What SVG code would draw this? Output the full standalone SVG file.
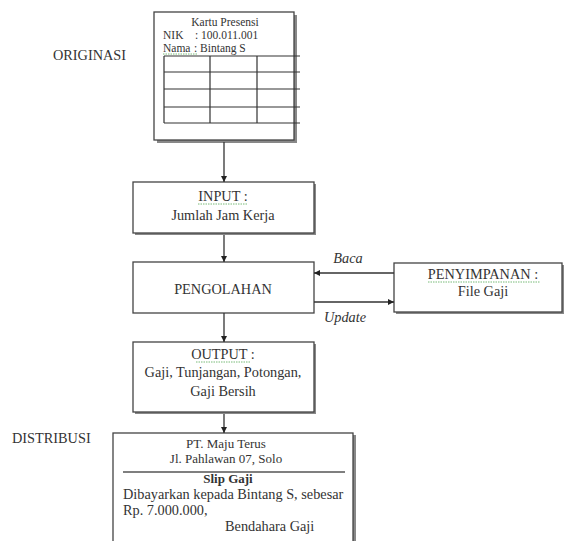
<svg xmlns="http://www.w3.org/2000/svg" width="564" height="541" viewBox="0 0 564 541">
<style>
text{font-family:"Liberation Serif","Times New Roman",serif;fill:#333;font-size:14.3px}
.c{text-anchor:middle}
.s{font-size:11.5px}
.h{font-size:13px}
.box{fill:#fff;stroke:#444;stroke-width:1.3}
.sh{fill:#888;stroke:none}
.ln{stroke:#333;stroke-width:1.3;fill:none}
.tb{stroke:#333;stroke-width:1.2;fill:none}
.it{font-style:italic}
.sq{stroke:#5a5;stroke-width:0.8;fill:none;stroke-dasharray:1.5 1}
</style>
<defs>
<marker id="ah" viewBox="0 0 10 10" refX="10" refY="5" markerWidth="6" markerHeight="6" orient="auto" markerUnits="userSpaceOnUse">
<path d="M0,0 L10,5 L0,10 Z" fill="#222"/>
</marker>
</defs>
<rect width="564" height="541" fill="#fff"/>
<text x="53" y="60">ORIGINASI</text>
<text x="12" y="443">DISTRIBUSI</text>
<g id="kartu">
<rect class="sh" x="157" y="15" width="140" height="128"/>
<rect class="box" x="154" y="12" width="140" height="128"/>
<text class="c s" x="225" y="26">Kartu Presensi</text>
<text class="s" x="163" y="39">NIK</text>
<text class="s" x="195" y="39">: 100.011.001</text>
<text class="s" x="163" y="52">Nama</text>
<text class="s" x="194" y="52">: Bintang S</text>
<path class="sq" d="M163,54 h34"/>
<path class="tb" d="M164,56 H300 M164,72 H300 M164,89 H300 M164,107 H300 M164,123 H300 M164,56 V123 M210,56 V123 M257,56 V123"/>
</g>
<g id="input">
<rect class="sh" x="135" y="184" width="181" height="51"/>
<rect class="box" x="133" y="182" width="181" height="51"/>
<text class="c" x="223" y="201">INPUT :</text>
<path class="sq" d="M198,204 h50"/>
<text class="c" x="223" y="220">Jumlah Jam Kerja</text>
</g>
<g id="pengolahan">
<rect class="box" x="133" y="262" width="181" height="51"/>
<text class="c" x="223" y="294">PENGOLAHAN</text>
</g>
<g id="penyimpanan">
<rect class="sh" x="396" y="265" width="170" height="49"/>
<rect class="box" x="394" y="263" width="168" height="49"/>
<text class="c" x="483" y="279">PENYIMPANAN :</text>
<path class="sq" d="M428,282 h112"/>
<text class="c" x="483" y="296">File Gaji</text>
</g>
<g id="output">
<rect class="sh" x="135" y="344" width="181" height="70"/>
<rect class="box" x="133" y="342" width="181" height="70"/>
<text class="c" x="223" y="359">OUTPUT :</text>
<path class="sq" d="M196,362 h54"/>
<text class="c" x="223" y="377">Gaji, Tunjangan, Potongan,</text>
<text class="c" x="223" y="396">Gaji Bersih</text>
</g>
<g id="slip">
<rect class="sh" x="115" y="435" width="241" height="120"/>
<rect class="box" x="113" y="433" width="240" height="120"/>
<text class="c h" x="226" y="448">PT. Maju Terus</text>
<text class="c h" x="226" y="463">Jl. Pahlawan 07, Solo</text>
<path d="M123,472 H345" stroke="#555" stroke-width="1.6"/>
<text class="c" x="228" y="483" style="font-weight:bold;font-size:13px">Slip Gaji</text>
<text x="123" y="499">Dibayarkan kepada Bintang S, sebesar</text>
<text x="123" y="515">Rp. 7.000.000,</text>
<text x="225" y="531">Bendahara Gaji</text>
</g>
<g id="connectors">
<path class="ln" d="M224,142 V182" marker-end="url(#ah)"/>
<path class="ln" d="M224,235 V262" marker-end="url(#ah)"/>
<path class="ln" d="M224,313 V342" marker-end="url(#ah)"/>
<path class="ln" d="M224,414 V433" marker-end="url(#ah)"/>
<path class="ln" d="M394,273 H314" marker-end="url(#ah)"/>
<path class="ln" d="M314,302 H394" marker-end="url(#ah)"/>
<text class="it c" x="348" y="263">Baca</text>
<text class="it c" x="345" y="322">Update</text>
</g>
</svg>
